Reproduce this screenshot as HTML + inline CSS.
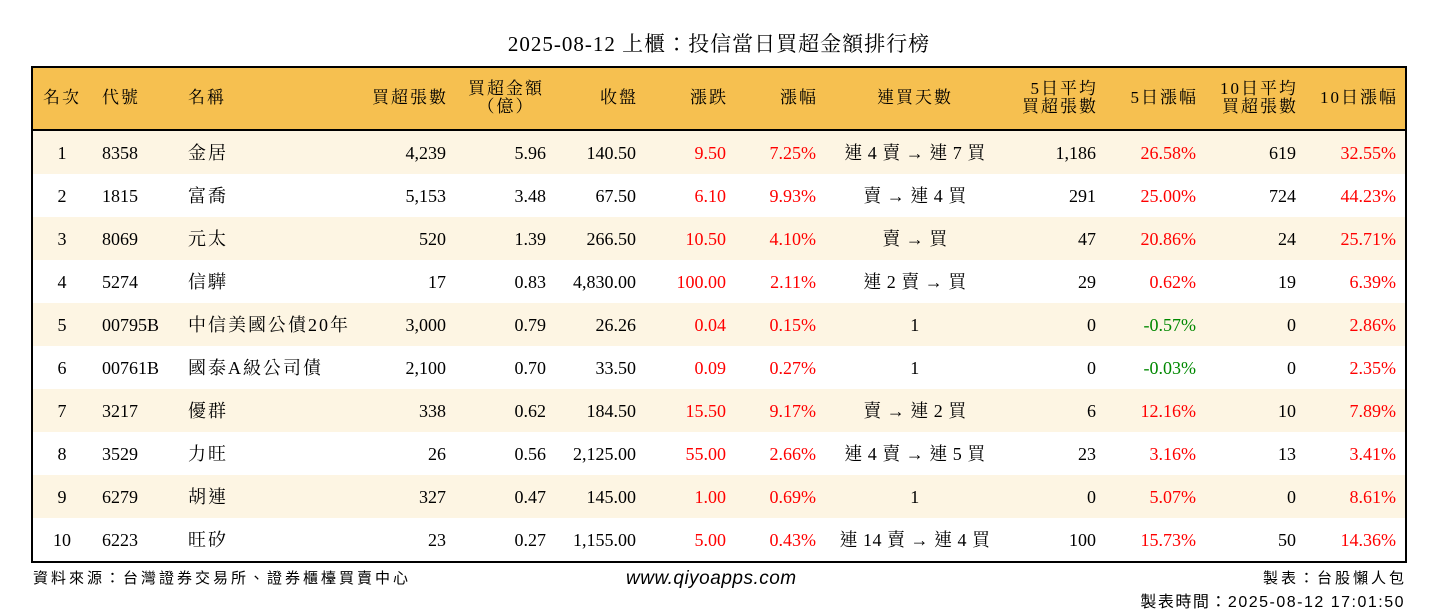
<!DOCTYPE html>
<html><head><meta charset="utf-8"><style>
body{margin:0;width:1438px;height:612px;background:#fff;position:relative;overflow:hidden;font-family:"Liberation Serif","Noto Serif CJK TC","Noto Serif CJK SC",serif;}
#title{position:absolute;top:28px;left:0;width:1438px;text-align:center;font-size:21px;color:#000;letter-spacing:1px;}
#tbl{position:absolute;left:31px;top:66px;width:1372px;height:493px;border:2px solid #000;}
.hdr{position:absolute;left:0;top:0;width:1372px;height:61px;background:#F6C050;border-bottom:2px solid #000;}
.row{position:absolute;left:0;width:1372px;height:43px;}
.c{position:absolute;font-size:18px;line-height:20px;white-space:nowrap;}
.cj{letter-spacing:2px;}
.st{letter-spacing:0.5px;}
.h{font-size:17px;line-height:18px;letter-spacing:2px;}
.r{color:#f00}.g{color:#080}
.foot{position:absolute;font-size:15px;font-family:"Liberation Sans","Noto Sans CJK TC",sans-serif;letter-spacing:3px;}
</style></head><body>
<div id="title">2025-08-12 上櫃：投信當日買超金額排行榜</div>
<div id="tbl">
<div class="hdr"></div>
</div>
<div class="foot" style="left:33px;top:567px">資料來源：台灣證券交易所、證券櫃檯買賣中心</div>
<div class="foot" style="left:626px;top:568px;font-size:19px;font-style:italic;letter-spacing:0.5px">www.qiyoapps.com</div>
<div class="foot" style="right:31px;top:567px">製表：台股懶人包</div>
<div class="foot" style="right:33px;top:588px;font-size:16px;letter-spacing:1.5px">製表時間：2025-08-12 17:01:50</div>
<script>
const ranks=["1","2","3","4","5","6","7","8","9","10"];
const codes=["8358","1815","8069","5274","00795B","00761B","3217","3529","6279","6223"];
const names=["金居","富喬","元太","信驊","中信美國公債20年","國泰A級公司債","優群","力旺","胡連","旺矽"];
const vols=["4,239","5,153","520","17","3,000","2,100","338","26","327","23"];
const amts=["5.96","3.48","1.39","0.83","0.79","0.70","0.62","0.56","0.47","0.27"];
const closes=["140.50","67.50","266.50","4,830.00","26.26","33.50","184.50","2,125.00","145.00","1,155.00"];
const chgs=["9.50","6.10","10.50","100.00","0.04","0.09","15.50","55.00","1.00","5.00"];
const pcts=["7.25%","9.93%","4.10%","2.11%","0.15%","0.27%","9.17%","2.66%","0.69%","0.43%"];
const streaks=["連 4 賣 → 連 7 買","賣 → 連 4 買","賣 → 買","連 2 賣 → 買","1","1","賣 → 連 2 買","連 4 賣 → 連 5 買","1","連 14 賣 → 連 4 買"];
const avg5=["1,186","291","47","29","0","0","6","23","0","100"];
const pct5=["26.58%","25.00%","20.86%","0.62%","-0.57%","-0.03%","12.16%","3.16%","5.07%","15.73%"];
const avg10=["619","724","24","19","0","0","10","13","0","50"];
const pct10=["32.55%","44.23%","25.71%","6.39%","2.86%","2.35%","7.89%","3.41%","8.61%","14.36%"];
const tbl=document.getElementById('tbl');
const hdr=tbl.querySelector('.hdr');
const cols=[
 {a:'center',x:29,h:"名次"},{a:'left',x:69,h:"代號"},{a:'left',x:155,h:"名稱"},
 {a:'right',x:413,h:"買超張數"},{a:'center',x:473,h:"買超金額<br>（億）"},{a:'right',x:603,h:"收盤"},
 {a:'right',x:693,h:"漲跌"},{a:'right',x:783,h:"漲幅"},{a:'center',x:882,h:"連買天數"},
 {a:'right',x:1063,h:"5日平均<br>買超張數"},{a:'right',x:1163,h:"5日漲幅"},{a:'right',x:1263,h:"10日平均<br>買超張數"},{a:'right',x:1363,h:"10日漲幅"}];
const rowAlign=['center','left','left','right','right','right','right','right','center','right','right','right','right'];
const rowX=[29,69,155,413,513,603,693,783,882,1063,1163,1263,1363];
function place(el,a,x,w){
 if(a==='left')el.style.left=x+'px';
 else if(a==='right'){el.style.right=(1372-x)+'px';el.style.textAlign='right';}
 else{el.style.left=(x-w/2)+'px';el.style.width=w+'px';el.style.textAlign='center';}
}
cols.forEach((col,i)=>{
 const d=document.createElement('div');d.className='c h';
 
 
 d.innerHTML=col.h;
 const two=col.h.indexOf('<br>')>=0;
 d.style.top=(two?12:21)+'px';
 place(d,col.a,col.x,200);
 if(col.a==='right')d.style.marginRight='-2px';
 hdr.appendChild(d);
});
const colorOf=v=>v.startsWith('-')?'g':'r';
for(let i=0;i<ranks.length;i++){
 const row=document.createElement('div');row.className='row';
 
 
 row.style.top=(63+i*43)+'px';
 row.style.background=i%2===0?'#FDF5E3':'#fff';
 const vals=[ranks[i],codes[i],names[i],vols[i],amts[i],closes[i],chgs[i],pcts[i],streaks[i],avg5[i],pct5[i],avg10[i],pct10[i]];
 vals.forEach((v,j)=>{
  const d=document.createElement('div');d.className='c';
  
  
  d.textContent=v;d.style.top='12px';
  if(j===2)d.classList.add('cj');
  if(j===8)d.classList.add('st');
  if(j===6||j===7||j===10||j===12)d.classList.add(colorOf(v));
  place(d,rowAlign[j],rowX[j],j===8?240:40);
  row.appendChild(d);
 });
 tbl.appendChild(row);
}
</script>
</body></html>
